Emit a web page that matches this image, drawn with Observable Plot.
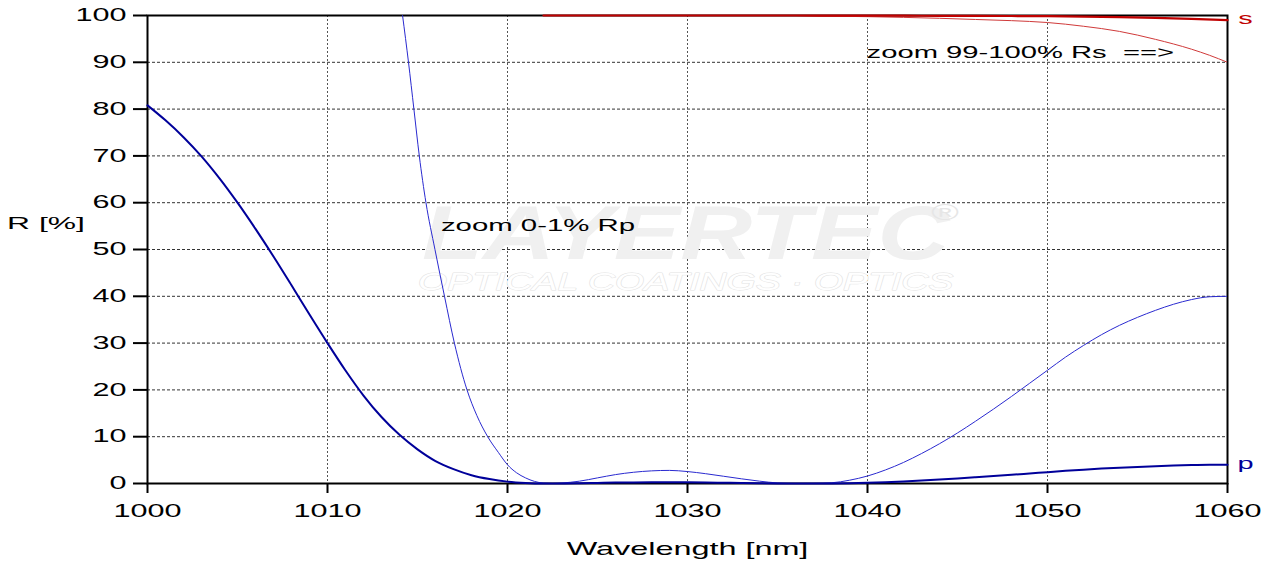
<!DOCTYPE html>
<html><head><meta charset="utf-8">
<script src="https://cdn.jsdelivr.net/npm/d3@7"></script>
<script src="https://cdn.jsdelivr.net/npm/@observablehq/plot@0.6"></script>
<style>body{margin:0;background:#fff} #chart svg{display:block}</style>
</head><body><div id="chart"></div>
<script>
const xTicks = [1000, 1010, 1020, 1030, 1040, 1050, 1060];
const yTicks = [0, 10, 20, 30, 40, 50, 60, 70, 80, 90, 100];

// Rp (%) thick curve
const rpWavelength = [1000,1001,1002,1003,1004,1005,1006,1007,1008,1009,1010,1011,1012,1013,1014,1015,1016,1017,1018,1019,1020,1021,1022,1023,1024,1025,1026,1027,1028,1029,1030,1031,1032,1033,1034,1035,1036,1037,1038,1039,1040,1041,1042,1043,1044,1045,1046,1047,1048,1049,1050,1051,1052,1053,1054,1055,1056,1057,1058,1059,1060];
const rpValues = [80.8,77.6,74.0,69.9,65.2,60.0,54.4,48.5,42.35,36.1,30.0,24.15,18.8,14.2,10.4,7.3,4.8,3.08,1.78,0.95,0.4,0.12,0.01,0.01,0.05,0.12,0.19,0.24,0.27,0.28,0.255,0.21,0.155,0.1,0.05,0.012,0,0.002,0.015,0.07,0.16,0.29,0.45,0.64,0.85,1.08,1.33,1.59,1.86,2.14,2.42,2.70,2.95,3.18,3.38,3.55,3.70,3.83,3.93,3.99,4.0];

// Rp zoomed curve (thin)
const rpZoomWavelength = [1014.17,1014.5,1014.8,1015.1,1015.47,1015.97,1016.5,1017.05,1017.75,1018.3,1018.9,1019.5,1020,1020.5,1021,1021.5,1022,1022.5,1023,1024,1025,1026,1027,1028,1029,1030,1031,1032,1033,1034,1035,1036,1037,1038,1039,1040,1041,1042,1043,1044,1045,1046,1047,1048,1049,1050,1051,1052,1053,1054,1055,1056,1057,1058,1059,1060];
const rpZoomValues = [100,90,80,70,60,50,40,30,20,14.5,10,6.6,4.0,2.3,1.2,0.45,0.08,0,0.1,0.5,1.2,1.9,2.4,2.7,2.8,2.55,2.1,1.55,1.0,0.5,0.12,0,0.02,0.15,0.7,1.6,2.9,4.5,6.4,8.5,10.8,13.3,15.9,18.6,21.4,24.2,27.0,29.5,31.8,33.8,35.5,37.0,38.3,39.3,39.9,40.0];

// Rs (%) thick curve
const rsWavelength = [1022,1024,1026,1028,1030,1032,1034,1036,1038,1040,1042,1044,1046,1048,1050,1052,1054,1056,1058,1060];
const rsValues = [100,100,100,100,100,100,100,100,99.99,99.98,99.96,99.94,99.92,99.89,99.85,99.77,99.66,99.49,99.28,99.0];

// Rs zoomed curve (thin)
const rsZoomWavelength = [1036,1038,1040,1042,1044,1046,1048,1050,1052,1054,1056,1058,1059,1060];
const rsZoomValues = [100,99.85,99.75,99.6,99.4,99.15,98.9,98.5,97.7,96.6,94.9,92.8,91.5,90.0];

const toRows = (xs, ys) => xs.map((x, i) => ({x, y: ys[i]}));
const rp = toRows(rpWavelength, rpValues);
const rpZoom = toRows(rpZoomWavelength, rpZoomValues);
const rs = toRows(rsWavelength, rsValues);
const rsZoom = toRows(rsZoomWavelength, rsZoomValues);

const FONT = "'Liberation Sans', Arial, sans-serif";
const RS_LABEL = "zoom 99-100% Rs\u00a0\u00a0==>";

const chart = Plot.plot({
  width: 1273,
  height: 562,
  marginLeft: 147,
  marginRight: 46,
  marginTop: 15,
  marginBottom: 79,
  style: {fontFamily: FONT, fontSize: "18px", color: "#000", background: "#fff", overflow: "visible"},
  x: {domain: [1000, 1060]},
  y: {domain: [0, 100]},
  marks: [
    Plot.gridY(yTicks, {stroke: "#333", strokeOpacity: 1, strokeWidth: 1, strokeDasharray: "3,2"}),
    Plot.gridX(xTicks, {stroke: "#555", strokeOpacity: 1, strokeWidth: 1, strokeDasharray: "2,2"}),
    // watermark
    Plot.text(["LAYERTEC"], {x: 1029.9, y: 53.2, text: d => d, fontSize: 76, fontWeight: "bold", fontStyle: "italic", fill: "#f0f0f0", textAnchor: "middle", lineAnchor: "middle"}),
    Plot.text(["®"], {x: 1044.3, y: 57.8, text: d => d, fontSize: 22, fill: "#e6e6e6", textAnchor: "middle", lineAnchor: "middle"}),
    Plot.text(["OPTICAL COATINGS · OPTICS"], {x: 1029.9, y: 43.0, text: d => d, fontSize: 24, fontStyle: "italic", fill: "#ffffff", stroke: "#e4e4e4", strokeWidth: 1, textAnchor: "middle", lineAnchor: "middle"}),
    Plot.axisY(yTicks, {tickSize: 14, tickPadding: 7, strokeWidth: 2, label: null, fontSize: 18}),
    Plot.axisX(xTicks, {tickSize: 10, tickPadding: 11, strokeWidth: 2, label: null, fontSize: 18, tickFormat: d => `${d}`}),
    Plot.frame({stroke: "#000", strokeWidth: 2}),
    Plot.line(rpZoom, {x: "x", y: "y", stroke: "#2a2ad0", strokeWidth: 1, curve: "monotone-x", clip: true}),
    Plot.line(rsZoom, {x: "x", y: "y", stroke: "#d03a3a", strokeWidth: 1, curve: "monotone-x", clip: true}),
    Plot.line(rp, {x: "x", y: "y", stroke: "#00009a", strokeWidth: 2, curve: "monotone-x"}),
    Plot.line(rs, {x: "x", y: "y", stroke: "#c00000", strokeWidth: 2.2, curve: "monotone-x"}),
    Plot.text(["zoom 0-1% Rp"], {x: 1016.3, y: 55.0, text: d => d, fontSize: 16.5, fill: "#000", textAnchor: "start", lineAnchor: "middle"}),
    Plot.text([RS_LABEL], {x: 1039.95, y: 92.1, text: d => d, fontSize: 16.5, fill: "#000", textAnchor: "start", lineAnchor: "middle"}),
    Plot.text(["s"], {x: 1061.0, y: 99.4, text: d => d, fontSize: 17, fill: "#c00000", textAnchor: "middle", lineAnchor: "middle"}),
    Plot.text(["p"], {x: 1061.0, y: 4.3, text: d => d, fontSize: 17, fill: "#00009a", textAnchor: "middle", lineAnchor: "middle"}),
    Plot.text(["R [%]"], {x: 992.2, y: 55.5, text: d => d, fontSize: 17, fill: "#000", textAnchor: "start", lineAnchor: "middle"}),
    Plot.text(["Wavelength [nm]"], {x: 1030, y: -14.0, text: d => d, fontSize: 18, fill: "#000", textAnchor: "middle", lineAnchor: "middle"})
  ]
});

// Horizontally stretch text glyphs about their anchor point (the reference uses wide lettering)
const stretchFor = {
  "LAYERTEC": 1.31,
  "OPTICAL COATINGS · OPTICS": 1.56,
  "zoom 0-1% Rp": 1.78,
  [RS_LABEL]: 1.77,
  "R [%]": 1.87,
  "Wavelength [nm]": 1.8
};
chart.querySelectorAll("text").forEach(t => {
  const sx = stretchFor[t.textContent] ?? 1.7;
  const xa = t.getAttribute("x");
  let x = 0;
  if (xa !== null && isFinite(+xa)) { x = +xa; t.removeAttribute("x"); }
  const tr = t.getAttribute("transform") || "";
  t.setAttribute("transform", `${tr} translate(${x},0) scale(${sx},1)`);
});

document.getElementById("chart").appendChild(chart);
</script>
</body></html>
